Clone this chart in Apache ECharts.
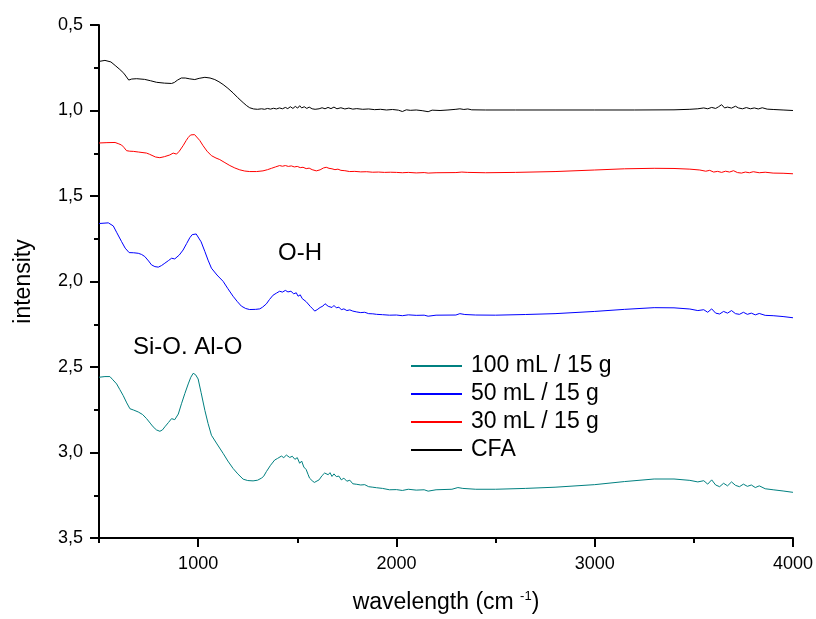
<!DOCTYPE html>
<html>
<head>
<meta charset="utf-8">
<script src="https://cdn.jsdelivr.net/npm/echarts@6/dist/echarts.min.js"></script>
<style>
  html, body { margin: 0; padding: 0; background: #fff; }
  #chart { width: 816px; height: 619px; }
</style>
</head>
<body>
<div id="chart"></div>
<script>
// FTIR spectra: [wavenumber (cm-1), intensity]
const seriesNames = ['100 mL / 15 g', '50 mL / 15 g', '30 mL / 15 g', 'CFA'];
const seriesColors = ['#008080', '#0000ff', '#ff0000', '#000000'];

const xMajorTicks = [1000, 2000, 3000, 4000];
const xMinorTicks = [500, 1500, 2500, 3500];

const cfaData = [
  [500,0.713],[530,0.707],[560,0.716],[585,0.740],[605,0.760],[625,0.782],[650,0.822],[665,0.816],[690,0.814],
  [730,0.818],[760,0.826],[790,0.835],[830,0.840],[866,0.842],[880,0.836],[895,0.823],[915,0.810],[935,0.810],
  [958,0.815],[983,0.819],[1005,0.812],[1034,0.806],[1060,0.810],[1084,0.819],[1105,0.832],[1126,0.848],
  [1150,0.870],[1176,0.897],[1200,0.925],[1227,0.954],[1245,0.972],[1260,0.984],[1280,0.991],[1300,0.993],
  [1320,0.990],[1335,0.993],[1350,0.988],[1365,0.992],[1380,0.987],[1395,0.991],[1410,0.985],[1425,0.990],
  [1440,0.982],[1452,0.989],[1465,0.978],[1478,0.988],[1490,0.976],[1502,0.986],[1512,0.972],[1522,0.985],
  [1535,0.978],[1548,0.988],[1560,0.980],[1575,0.990],[1590,0.993],[1610,0.990],[1625,0.984],[1640,0.990],
  [1655,0.982],[1670,0.989],[1685,0.980],[1700,0.990],[1720,0.984],[1740,0.991],[1760,0.986],[1780,0.992],
  [1800,0.989],[1830,0.993],[1860,0.991],[1890,0.995],[1920,0.993],[1950,0.997],[1980,0.994],[2010,0.998],
  [2030,1.006],[2050,0.996],[2070,0.999],[2100,0.997],[2130,1.001],[2160,1.007],[2180,0.998],[2220,1.000],
  [2260,0.997],[2300,0.993],[2320,0.990],[2340,0.994],[2360,0.991],[2380,0.996],[2450,0.997],[2600,0.997],
  [2800,0.997],[3000,0.997],[3200,0.997],[3400,0.996],[3480,0.993],[3520,0.990],[3550,0.985],[3570,0.990],
  [3590,0.982],[3610,0.988],[3625,0.978],[3640,0.966],[3655,0.985],[3670,0.980],[3690,0.986],[3710,0.975],
  [3725,0.985],[3745,0.990],[3765,0.983],[3785,0.990],[3805,0.985],[3825,0.991],[3845,0.984],[3870,0.992],
  [3900,0.994],[3950,0.997],[4000,1.000]
];

const ml30Data = [
  [500,1.190],[540,1.188],[581,1.187],[600,1.195],[614,1.202],[625,1.215],[639,1.235],[655,1.238],[673,1.239],
  [700,1.243],[740,1.249],[755,1.256],[765,1.264],[785,1.272],[807,1.276],[830,1.270],[857,1.260],[874,1.249],
  [882,1.254],[891,1.255],[905,1.238],[924,1.206],[940,1.175],[950,1.158],[962,1.143],[972,1.138],[982,1.141],
  [992,1.148],[1008,1.175],[1025,1.206],[1045,1.238],[1067,1.264],[1090,1.278],[1109,1.287],[1135,1.305],
  [1160,1.322],[1185,1.336],[1210,1.347],[1235,1.354],[1260,1.357],[1295,1.357],[1327,1.353],[1350,1.346],
  [1370,1.338],[1390,1.330],[1411,1.322],[1425,1.326],[1440,1.322],[1455,1.327],[1470,1.324],[1485,1.330],
  [1500,1.327],[1515,1.334],[1529,1.332],[1545,1.340],[1560,1.337],[1575,1.346],[1596,1.353],[1615,1.347],
  [1632,1.336],[1646,1.332],[1660,1.338],[1675,1.341],[1690,1.346],[1705,1.343],[1720,1.350],[1740,1.352],
  [1764,1.357],[1790,1.356],[1820,1.359],[1850,1.358],[1880,1.361],[1910,1.360],[1940,1.362],[1970,1.361],
  [2000,1.362],[2030,1.364],[2060,1.362],[2100,1.365],[2140,1.363],[2160,1.366],[2200,1.364],[2300,1.363],
  [2330,1.360],[2360,1.362],[2450,1.364],[2600,1.362],[2800,1.357],[3000,1.348],[3150,1.341],[3300,1.338],
  [3400,1.339],[3480,1.343],[3530,1.348],[3560,1.355],[3580,1.350],[3600,1.360],[3620,1.356],[3640,1.362],
  [3660,1.355],[3680,1.360],[3700,1.352],[3720,1.363],[3740,1.366],[3760,1.360],[3780,1.364],[3800,1.358],
  [3830,1.364],[3860,1.361],[3900,1.366],[3950,1.367],[4000,1.370]
];

const ml50Data = [
  [500,1.661],[547,1.657],[572,1.675],[590,1.715],[614,1.767],[632,1.805],[652,1.831],[675,1.832],[698,1.835],
  [715,1.842],[731,1.854],[750,1.880],[765,1.903],[782,1.913],[799,1.916],[815,1.907],[832,1.893],[850,1.878],
  [866,1.864],[875,1.858],[882,1.868],[888,1.870],[905,1.845],[924,1.816],[942,1.778],[958,1.744],[970,1.726],
  [980,1.719],[990,1.722],[1000,1.732],[1015,1.768],[1034,1.825],[1050,1.875],[1067,1.922],[1095,1.962],
  [1126,1.999],[1150,2.042],[1176,2.086],[1198,2.118],[1218,2.144],[1240,2.158],[1260,2.164],[1290,2.163],
  [1311,2.160],[1325,2.150],[1344,2.131],[1360,2.105],[1378,2.080],[1395,2.068],[1411,2.057],[1425,2.062],
  [1440,2.052],[1453,2.061],[1468,2.057],[1482,2.072],[1495,2.066],[1504,2.086],[1515,2.078],[1525,2.100],
  [1535,2.092],[1545,2.118],[1554,2.125],[1565,2.145],[1578,2.160],[1588,2.173],[1600,2.165],[1615,2.152],
  [1629,2.144],[1640,2.130],[1646,2.131],[1656,2.145],[1665,2.135],[1675,2.152],[1685,2.140],[1697,2.154],
  [1710,2.150],[1722,2.165],[1735,2.160],[1750,2.170],[1765,2.166],[1780,2.173],[1800,2.178],[1820,2.182],
  [1840,2.180],[1860,2.188],[1881,2.189],[1900,2.192],[1930,2.194],[1965,2.197],[2000,2.196],[2030,2.200],
  [2060,2.195],[2100,2.198],[2140,2.197],[2160,2.203],[2200,2.197],[2300,2.196],[2320,2.188],[2345,2.193],
  [2400,2.196],[2500,2.197],[2650,2.193],[2800,2.188],[3000,2.175],[3150,2.163],[3300,2.153],[3400,2.154],
  [3480,2.161],[3520,2.170],[3550,2.165],[3570,2.180],[3590,2.160],[3610,2.185],[3630,2.190],[3650,2.175],
  [3670,2.185],[3690,2.170],[3710,2.188],[3730,2.192],[3750,2.180],[3770,2.192],[3790,2.185],[3810,2.195],
  [3830,2.187],[3860,2.198],[3900,2.200],[3950,2.205],[4000,2.212]
];

const ml100Data = [
  [500,2.560],[530,2.556],[555,2.556],[570,2.575],[589,2.599],[605,2.632],[622,2.667],[640,2.710],[656,2.744],
  [675,2.752],[698,2.763],[720,2.778],[740,2.802],[758,2.828],[773,2.850],[790,2.868],[807,2.876],[820,2.868],
  [832,2.850],[850,2.825],[866,2.802],[875,2.798],[882,2.808],[888,2.812],[900,2.775],[916,2.715],[933,2.655],
  [950,2.599],[963,2.560],[975,2.537],[987,2.545],[1000,2.570],[1015,2.650],[1034,2.754],[1050,2.830],
  [1067,2.899],[1095,2.950],[1126,3.005],[1150,3.050],[1176,3.093],[1200,3.125],[1227,3.156],[1250,3.164],
  [1277,3.166],[1300,3.162],[1319,3.150],[1330,3.140],[1344,3.112],[1365,3.075],[1386,3.044],[1400,3.035],
  [1420,3.021],[1432,3.030],[1445,3.015],[1462,3.029],[1475,3.022],[1488,3.040],[1500,3.030],[1512,3.063],
  [1522,3.050],[1533,3.085],[1545,3.100],[1555,3.130],[1562,3.150],[1575,3.165],[1586,3.175],[1596,3.179],
  [1610,3.160],[1625,3.135],[1638,3.120],[1646,3.112],[1656,3.130],[1665,3.118],[1675,3.140],[1685,3.125],
  [1697,3.141],[1710,3.138],[1722,3.160],[1735,3.150],[1750,3.168],[1765,3.162],[1780,3.183],[1800,3.186],
  [1820,3.190],[1840,3.188],[1860,3.200],[1881,3.203],[1900,3.206],[1930,3.210],[1965,3.218],[2000,3.217],
  [2030,3.222],[2060,3.215],[2100,3.220],[2140,3.218],[2160,3.226],[2200,3.218],[2280,3.215],[2310,3.205],
  [2335,3.210],[2400,3.215],[2500,3.215],[2650,3.210],[2800,3.203],[3000,3.188],[3150,3.170],[3300,3.155],
  [3400,3.155],[3480,3.163],[3520,3.172],[3550,3.165],[3570,3.185],[3590,3.160],[3610,3.190],[3630,3.200],
  [3650,3.180],[3670,3.195],[3690,3.172],[3710,3.192],[3730,3.200],[3750,3.185],[3770,3.198],[3790,3.190],
  [3810,3.205],[3830,3.195],[3860,3.212],[3900,3.218],[3950,3.225],[4000,3.233]
];

const seriesData = [ml100Data, ml50Data, ml30Data, cfaData];

const FONT = '"Liberation Sans", Arial, sans-serif';

const chart = echarts.init(document.getElementById('chart'), null, { renderer: 'canvas' });

const axisLineStyle = { color: '#000', width: 2 };

chart.setOption({
  animation: false,
  backgroundColor: '#fff',
  grid: { left: 99, right: 22, top: 25, bottom: 78, containLabel: false },
  legend: {
    orient: 'vertical',
    left: 406,
    top: 349,
    itemWidth: 51,
    itemHeight: 2,
    itemGap: 4,
    icon: 'rect',
    data: seriesNames,
    textStyle: { fontFamily: FONT, fontSize: 23, color: '#000', lineHeight: 24, padding: [0, 0, 0, 4] }
  },
  xAxis: [
    {
      type: 'value',
      min: 500,
      max: 4000,
      interval: 500,
      splitLine: { show: false },
      axisLine: { show: true, onZero: false, lineStyle: axisLineStyle },
      axisTick: { show: true, length: 9, lineStyle: { color: '#000', width: 2 }, customValues: xMajorTicks },
      axisLabel: {
        customValues: xMajorTicks, fontFamily: FONT, fontSize: 18, color: '#000', margin: 17,
        formatter: v => String(v)
      },
      name: '{a|wavelength (cm }{s|-1}{a|)}',
      nameLocation: 'middle',
      nameGap: 52,
      nameTextStyle: {
        rich: {
          a: { fontFamily: FONT, fontSize: 23, color: '#000' },
          s: { fontFamily: FONT, fontSize: 13, color: '#000', verticalAlign: 'top', padding: [0, 0, 12, 0] }
        }
      }
    },
    {
      type: 'value',
      min: 500,
      max: 4000,
      interval: 500,
      position: 'bottom',
      splitLine: { show: false },
      axisLine: { show: false, onZero: false },
      axisTick: { show: true, length: 5, lineStyle: { color: '#000', width: 2 }, customValues: xMinorTicks },
      axisLabel: { show: false }
    }
  ],
  yAxis: {
    type: 'value',
    inverse: true,
    min: 0.5,
    max: 3.5,
    interval: 0.5,
    splitLine: { show: false },
    axisLine: { show: true, onZero: false, lineStyle: axisLineStyle },
    axisTick: { show: true, length: 9, lineStyle: { color: '#000', width: 2 } },
    minorTick: { show: true, splitNumber: 2, length: 5, lineStyle: { color: '#000', width: 2 } },
    axisLabel: {
      fontFamily: FONT, fontSize: 18, color: '#000', margin: 16,
      formatter: v => v.toFixed(1).replace('.', ',')
    },
    name: 'intensity',
    nameLocation: 'middle',
    nameGap: 64,
    nameRotate: 90,
    nameTextStyle: { fontFamily: FONT, fontSize: 23, color: '#000' }
  },
  graphic: [
    { type: 'text', x: 278, y: 253, style: { text: 'O-H', font: '24px ' + FONT, fill: '#000', verticalAlign: 'middle' } },
    { type: 'text', x: 133, y: 347, style: { text: 'Si-O. Al-O', font: '24px ' + FONT, fill: '#000', verticalAlign: 'middle' } }
  ],
  series: seriesNames.map((name, i) => ({
    name,
    type: 'line',
    xAxisIndex: 0,
    data: seriesData[i],
    showSymbol: false,
    symbol: 'none',
    smooth: false,
    color: seriesColors[i],
    lineStyle: { color: seriesColors[i], width: 1 },
    z: 10 - i
  }))
});
</script>
</body>
</html>
